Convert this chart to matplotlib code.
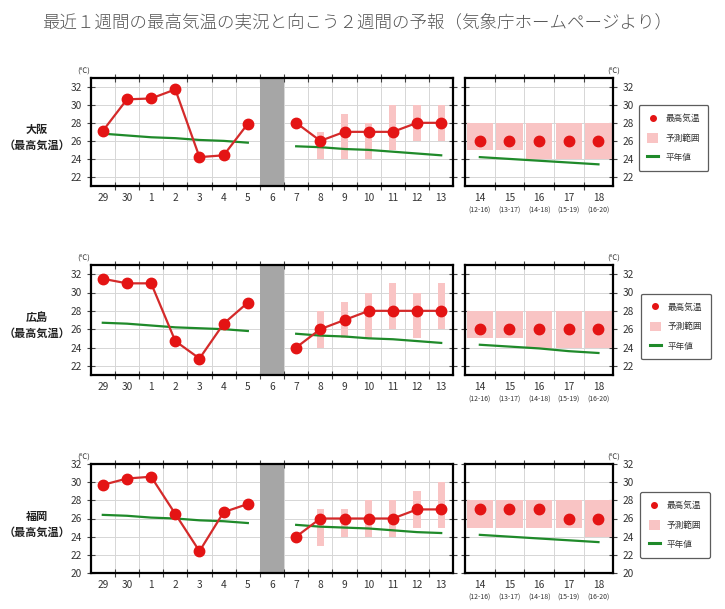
import numpy as np
import matplotlib.pyplot as plt
from matplotlib.lines import Line2D
from matplotlib.patches import Patch
import matplotlib.transforms as mtransforms

plt.rcParams['font.family'] = ['Noto Sans CJK JP', 'DejaVu Sans']

title = '最近１週間の最高気温の実況と向こう２週間の予報（気象庁ホームページより）'

days = ['29', '30', '1', '2', '3', '4', '5', '6', '7', '8', '9', '10', '11', '12', '13']
week2_days = ['14', '15', '16', '17', '18']
week2_periods = ['(12-16)', '(13-17)', '(14-18)', '(15-19)', '(16-20)']
stations = ['大阪', '広島', '福岡']

# observed last week (29..5)
obs = [
    [27.1, 30.6, 30.7, 31.7, 24.2, 24.4, 27.9],
    [31.5, 31.0, 31.0, 24.7, 22.8, 26.6, 28.9],
    [29.7, 30.4, 30.6, 26.5, 22.4, 26.7, 27.6],
]
obs_normal = [
    [26.8, 26.6, 26.4, 26.3, 26.1, 26.0, 25.8],
    [26.7, 26.6, 26.4, 26.2, 26.1, 26.0, 25.8],
    [26.4, 26.3, 26.1, 26.0, 25.8, 25.7, 25.5],
]
# forecast week 1 (7..13)
fc = [
    [28, 26, 27, 27, 27, 28, 28],
    [24, 26, 27, 28, 28, 28, 28],
    [24, 26, 26, 26, 26, 27, 27],
]
fc_low = [
    [np.nan, 24, 24, 24, 25, 26, 26],
    [np.nan, 24, 25, 25, 26, 25, 26],
    [np.nan, 23, 24, 24, 24, 25, 25],
]
fc_high = [
    [np.nan, 27, 29, 28, 30, 30, 30],
    [np.nan, 28, 29, 30, 31, 30, 31],
    [np.nan, 27, 27, 28, 28, 29, 30],
]
fc_normal = [
    [25.4, 25.3, 25.1, 25.0, 24.8, 24.6, 24.4],
    [25.5, 25.3, 25.2, 25.0, 24.9, 24.7, 24.5],
    [25.3, 25.1, 25.0, 24.9, 24.7, 24.5, 24.4],
]
# week 2 (5-day means)
w2 = [
    [26, 26, 26, 26, 26],
    [26, 26, 26, 26, 26],
    [27, 27, 27, 26, 26],
]
w2_low = [
    [25, 25, 24, 24, 24],
    [25, 25, 24, 24, 24],
    [25, 25, 25, 25, 24],
]
w2_high = [
    [28, 28, 28, 28, 28],
    [28, 28, 28, 28, 28],
    [28, 28, 28, 28, 28],
]
w2_normal = [
    [24.2, 24.0, 23.8, 23.6, 23.4],
    [24.3, 24.1, 23.9, 23.6, 23.4],
    [24.2, 24.0, 23.8, 23.6, 23.4],
]
ylims = [(21, 33), (21, 33), (20, 32)]

W, H = 725, 609
RED = '#e41414'
LINE_RED = '#d42a2a'
PINK = '#f9c4c4'
GREEN = '#1f8a2a'
GRID = '#d6d6d6'
TXT = '#333333'


def px_axes(fig, x0, y0, x1, y1):
    return fig.add_axes([x0 / W, 1 - y1 / H, (x1 - x0) / W, (y1 - y0) / H])


def style(ax, ylim):
    ax.set_ylim(*ylim)
    ax.set_yticks(np.arange(ylim[0] + 1 - (ylim[0] + 1) % 2, ylim[1] + 0.1, 2))
    ax.grid(True, color=GRID, lw=0.7, zorder=0)
    ax.set_axisbelow(True)
    for s in ax.spines.values():
        s.set_linewidth(1.6)
    ax.tick_params(which='major', direction='inout', length=6, width=0.8,
                   color='#444444', labelsize=7.3, labelcolor=TXT)
    ax.tick_params(axis='x', which='major', top=True, labelbottom=False)
    ax.tick_params(axis='x', which='minor', length=0, labelsize=7.3,
                   labelcolor=TXT, pad=5)


fig = plt.figure(figsize=(W / 100, H / 100), dpi=100)
fig.text(357 / W, 1 - 22 / H, title, ha='center', va='center',
         fontsize=12.6, fontweight='light', color='#555555')

rows = [(77.7, 186), (265, 375), (464, 573)]
legends = [(640, 103, 707, 173), (643, 292, 709, 361), (642, 490, 708, 560)]

for i, (y0, y1) in enumerate(rows):
    ylim = ylims[i]
    # --- daily panel
    ax = px_axes(fig, 90.7, y0, 453.3, y1)
    x = np.arange(len(days))
    ax.set_xlim(-0.5, len(days) - 0.5)
    ax.set_xticks(x[:-1] + 0.5)
    ax.set_xticks(x, minor=True)
    ax.set_xticklabels(days, minor=True)
    style(ax, ylim)
    ax.tick_params(axis='y', right=True)
    ax.axvspan(6.5, 7.5, color='#a6a6a6', zorder=1, lw=0)

    xo = x[:7]
    xf = x[8:]
    ax.plot(xo, obs_normal[i], color=GREEN, lw=1.6, zorder=2)
    ax.plot(xf, fc_normal[i], color=GREEN, lw=1.6, zorder=2)
    lo = np.array(fc_low[i], dtype=float)
    hi = np.array(fc_high[i], dtype=float)
    ax.bar(xf, hi - lo, bottom=lo, width=0.3, color=PINK, zorder=1.5)
    ax.plot(xo, obs[i], color=LINE_RED, lw=1.6, marker='o', ms=7.5,
            mfc=RED, mec=RED, zorder=3)
    ax.plot(xf, fc[i], color=LINE_RED, lw=1.6, marker='o', ms=7.5,
            mfc=RED, mec=RED, zorder=3)
    ax.text(-0.02, 1.02, '(℃)', transform=ax.transAxes, ha='center',
            va='bottom', fontsize=5.5, color=TXT)

    # station label
    fig.text(37 / W, 1 - (y0 + 52) / H, stations[i], ha='center', va='center',
             fontsize=8, fontweight='bold', color='#222222')
    fig.text(37 / W, 1 - (y0 + 68) / H, '（最高気温）', ha='center', va='center',
             fontsize=8, fontweight='bold', color='#222222')

    # --- week-2 panel
    ax2 = px_axes(fig, 465, y0, 613.3, y1)
    x2 = np.arange(len(week2_days))
    ax2.set_xlim(-0.5, len(week2_days) - 0.5)
    ax2.set_xticks(x2[:-1] + 0.5)
    ax2.set_xticks(x2, minor=True)
    ax2.set_xticklabels(week2_days, minor=True)
    style(ax2, ylim)
    ax2.tick_params(axis='y', left=True, right=True, labelleft=False,
                    labelright=True)
    lo2 = np.array(w2_low[i], dtype=float)
    hi2 = np.array(w2_high[i], dtype=float)
    ax2.bar(x2, hi2 - lo2, bottom=lo2, width=0.88, color=PINK, zorder=1.5)
    ax2.plot(x2, w2_normal[i], color=GREEN, lw=1.6, zorder=2)
    ax2.plot(x2, w2[i], ls='none', marker='o', ms=7.5, mfc=RED, mec=RED,
             zorder=3)
    trans = mtransforms.blended_transform_factory(ax2.transData, ax2.transAxes)
    for xi, per in zip(x2, week2_periods):
        ax2.text(xi, -0.19, per, transform=trans, ha='center', va='top',
                 fontsize=5, color=TXT)
    ax2.text(1.0, 1.02, '(℃)', transform=ax2.transAxes, ha='center',
             va='bottom', fontsize=5.5, color=TXT)

    # --- legend
    lx0, ly0, lx1, ly1 = legends[i]
    handles = [
        Line2D([], [], ls='none', marker='o', ms=4, mfc=RED, mec=RED),
        Patch(facecolor=PINK, edgecolor='none'),
        Line2D([], [], color=GREEN, lw=2.2),
    ]
    leg = fig.legend(handles, ['最高気温', '予測範囲', '平年値'],
                     loc='center', bbox_to_anchor=((lx0 + lx1) / 2 / W,
                                                  1 - (ly0 + ly1) / 2 / H),
                     fontsize=6.2, frameon=True, fancybox=True,
                     edgecolor='#333333', handlelength=1.3, handleheight=1.3,
                     labelspacing=1.15, borderpad=1.0, handletextpad=0.8,
                     borderaxespad=0)
    leg.get_frame().set_linewidth(0.9)
    for t in leg.get_texts():
        t.set_color(TXT)

fig.savefig('out.png', dpi=100)
